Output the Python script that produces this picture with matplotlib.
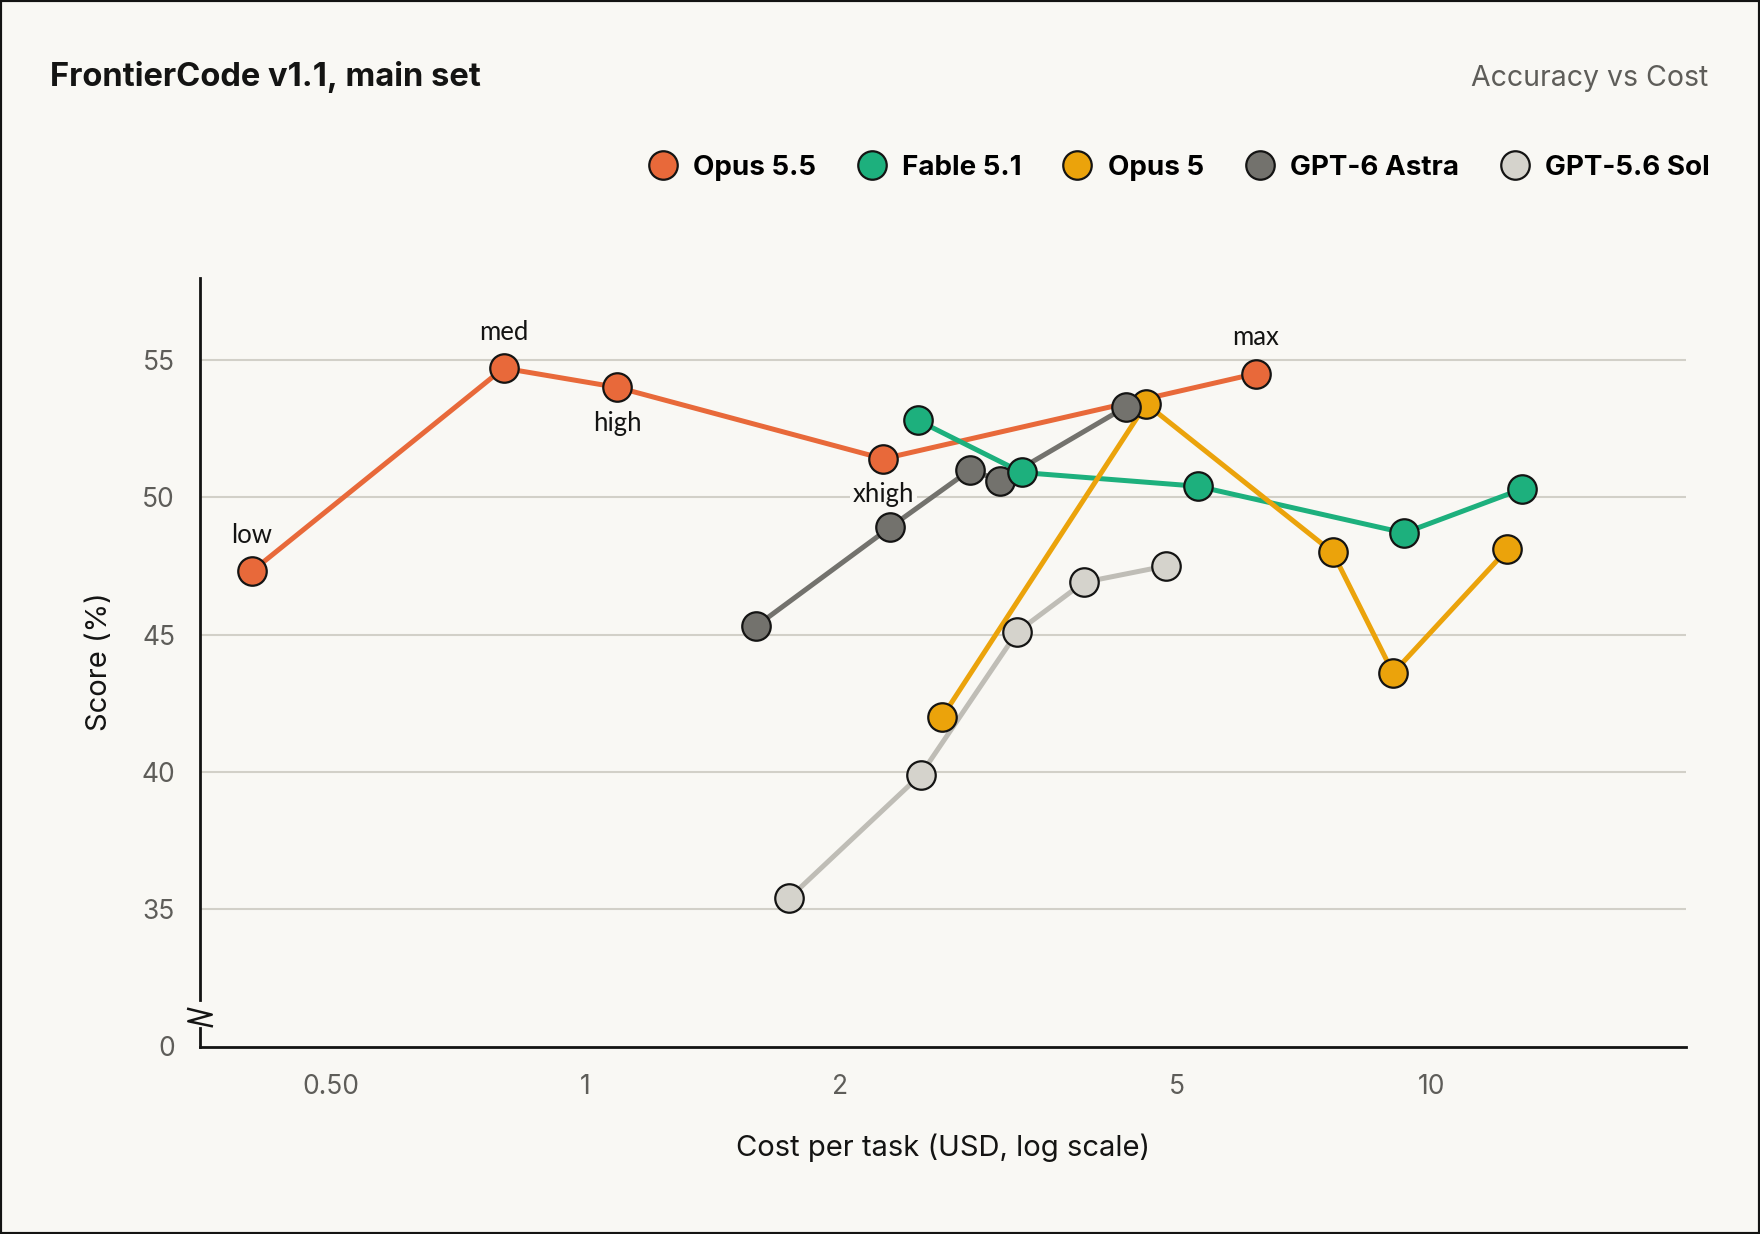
import matplotlib
matplotlib.use('Agg')
import matplotlib.pyplot as plt
import matplotlib.transforms as mtransforms
from matplotlib.lines import Line2D
from matplotlib.patches import Rectangle

# cost per task (USD) and score (%)
opus55_cost = [0.403, 0.80, 1.09, 2.25, 6.20]
opus55_score = [47.3, 54.7, 54.0, 51.4, 54.5]
opus55_effort = ['low', 'med', 'high', 'xhigh', 'max']
effort_above = [True, True, False, False, True]

fable_cost = [2.47, 3.28, 5.29, 9.29, 12.8]
fable_score = [52.8, 50.9, 50.4, 48.7, 50.3]

opus5_cost = [2.64, 4.60, 7.64, 9.01, 12.3]
opus5_score = [42.0, 53.4, 48.0, 43.6, 48.1]

astra_cost = [1.59, 2.29, 2.85, 3.09, 4.36]
astra_score = [45.3, 48.9, 51.0, 50.6, 53.3]

sol_cost = [1.74, 2.49, 3.24, 3.88, 4.86]
sol_score = [35.4, 39.9, 45.1, 46.9, 47.5]

names = ['Opus 5.5', 'Fable 5.1', 'Opus 5', 'GPT-6 Astra', 'GPT-5.6 Sol']
fills = ['#E8693A', '#1DB07D', '#EBA30B', '#73726D', '#D5D3CC']
line_cols = ['#E8693A', '#1DB07D', '#EBA30B', '#73726D', '#BFBDB6']

x_ticks = [0.5, 1, 2, 5, 10]
x_labels = ['0.50', '1', '2', '5', '10']
y_ticks = [30, 35, 40, 45, 50, 55]
y_labels = ['0', '35', '40', '45', '50', '55']

BG = '#F9F8F4'
GRID = '#D2D0C8'
TICK = '#5E5D59'
INK = '#141413'

plt.rcParams['font.family'] = ['Inter', 'DejaVu Sans']

fig = plt.figure(figsize=(17.6, 12.34), dpi=100, facecolor=BG)
ax = fig.add_axes([200 / 1760, 1 - 1046.5 / 1234, 1486 / 1760, 769 / 1234])
ax.set_facecolor(BG)

series = {
    'Opus 5.5': (opus55_cost, opus55_score),
    'Fable 5.1': (fable_cost, fable_score),
    'Opus 5': (opus5_cost, opus5_score),
    'GPT-6 Astra': (astra_cost, astra_score),
    'GPT-5.6 Sol': (sol_cost, sol_score),
}
col = dict(zip(names, fills))
lcol = dict(zip(names, line_cols))

# lines first, markers on top
for i, n in enumerate(['GPT-5.6 Sol', 'GPT-6 Astra', 'Opus 5.5', 'Fable 5.1', 'Opus 5']):
    c, s = series[n]
    ax.plot(c, s, color=lcol[n], lw=3.6, zorder=2 + i * 0.1, solid_capstyle='round')
for i, n in enumerate(['GPT-5.6 Sol', 'Opus 5', 'GPT-6 Astra', 'Fable 5.1', 'Opus 5.5']):
    c, s = series[n]
    ax.plot(c, s, ls='none', marker='o', ms=20.5, mfc=col[n], mec=INK, mew=1.6,
            zorder=4 + i * 0.1)

# effort labels sit above the grid but under the lines
for c, s, lab, up in zip(opus55_cost, opus55_score, opus55_effort, effort_above):
    ax.annotate(lab, (c, s), xytext=(0, 26 if up else -26), textcoords='offset points',
                ha='center', va='center', fontsize=18.5, color=INK, family=['Lato', 'DejaVu Sans'],
                bbox=dict(boxstyle='square,pad=0.1', fc=BG, ec='none'), zorder=1.5)

ax.set_xscale('log')
ax.set_xlim(0.35, 20)
ax.set_ylim(30, 58)
ax.set_xticks(x_ticks)
ax.set_xticklabels(x_labels)
ax.xaxis.set_minor_locator(matplotlib.ticker.NullLocator())
ax.set_yticks(y_ticks)
ax.set_yticklabels(y_labels)
ax.tick_params(length=0, labelsize=19, labelcolor=TICK)
ax.tick_params(axis='x', pad=20)
ax.tick_params(axis='y', pad=18)

for y in y_ticks[1:]:
    ax.axhline(y, color=GRID, lw=1.5, zorder=1)

for side in ['top', 'right', 'left']:
    ax.spines[side].set_visible(False)
ax.spines['bottom'].set_color(INK)
ax.spines['bottom'].set_linewidth(2)

# left axis with a break near the bottom
tr = mtransforms.blended_transform_factory(ax.transAxes, ax.transData)
dx = 0.0079
ax.plot([0, 0], [31.69, 58], color=INK, lw=2, transform=tr, clip_on=False, zorder=6)
ax.plot([0, 0], [30, 30.68], color=INK, lw=2, transform=tr, clip_on=False, zorder=6)
ax.plot([-dx, dx, -dx, dx], [31.37, 31.16, 30.92, 30.74], color=INK, lw=1.8,
        transform=tr, clip_on=False, zorder=6)

ax.set_xlabel('Cost per task (USD, log scale)', fontsize=21, color=INK, labelpad=24)
ax.set_ylabel('Score (%)', fontsize=21, color=INK, labelpad=20)

fig.text(50 / 1760, 1 - 77 / 1234, 'FrontierCode v1.1, main set', fontsize=23.5,
         fontweight='bold', color=INK, va='center', ha='left')
fig.text(1708 / 1760, 1 - 78 / 1234, 'Accuracy vs Cost', fontsize=20.5,
         color=TICK, va='center', ha='right')

handles = [Line2D([], [], ls='none', marker='o', ms=20.5, mfc=col[n], mec=INK, mew=1.6)
           for n in names]
fig.legend(handles, names, ncol=5, loc='center right', bbox_to_anchor=(1710 / 1760, 1 - 168 / 1234),
           frameon=False, borderpad=0, borderaxespad=0, handletextpad=0.6,
           columnspacing=1.5, handlelength=1.0,
           prop={'family': ['Inter', 'DejaVu Sans'], 'weight': 'bold', 'size': 20})

fig.patches.append(Rectangle((0, 0), 1, 1, transform=fig.transFigure, fill=False,
                             ec=INK, lw=3))

fig.savefig('out.png', dpi=100, facecolor=BG)
plt.close()
